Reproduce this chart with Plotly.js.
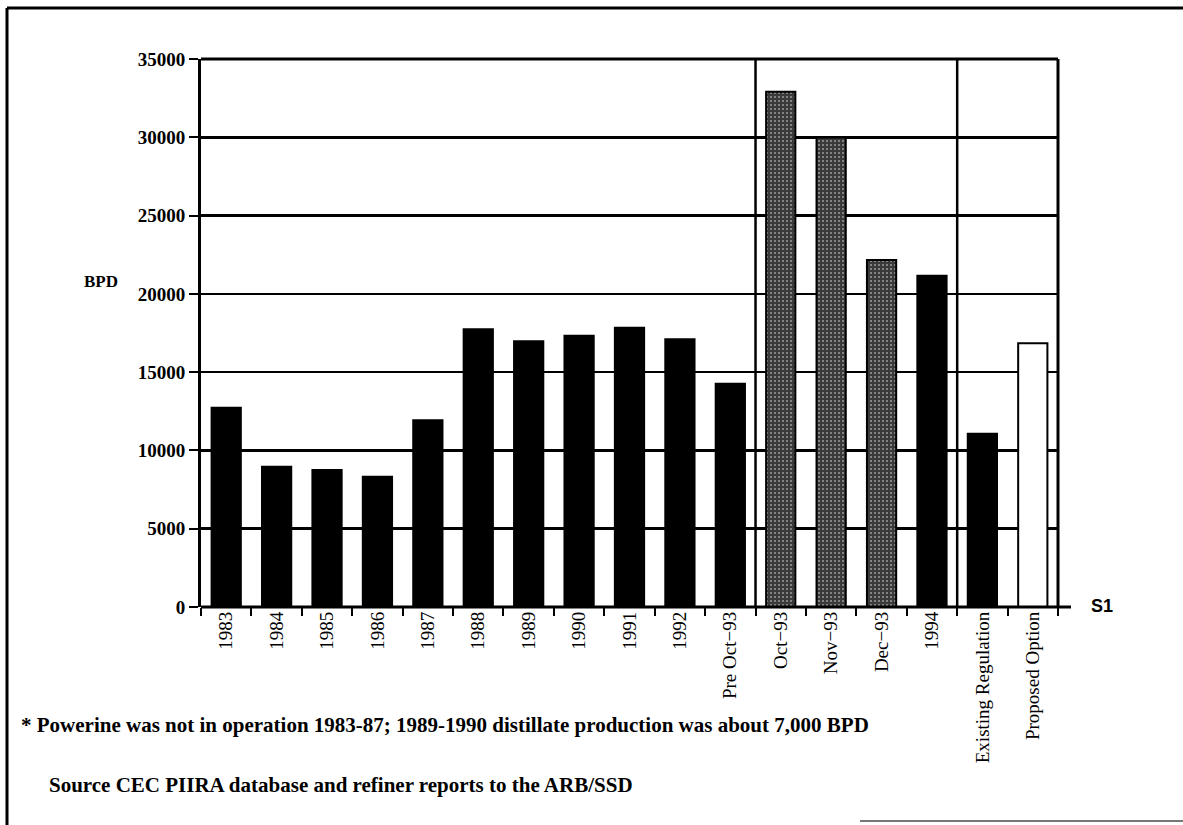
<!DOCTYPE html>
<html>
<head>
<meta charset="utf-8">
<script src="https://cdn.plot.ly/plotly-3.0.1.min.js"></script>
<style>
  html, body { margin: 0; padding: 0; background: #ffffff; }
  #chart { width: 1183px; height: 825px; }
</style>
</head>
<body>
<div id="chart"></div>
<script>
// ---- data ----
const categories = ["1983", "1984", "1985", "1986", "1987", "1988", "1989", "1990", "1991", "1992",
  "Pre Oct\u221293", "Oct\u221293", "Nov\u221293", "Dec\u221293", "1994", "Existing Regulation", "Proposed Option"];
const bpdValues = [12730, 8960, 8750, 8320, 11920, 17740, 16970, 17330, 17840, 17100,
  14260, 32910, 29980, 22160, 21150, 11070, 16840];
const barGroup = ["hist", "hist", "hist", "hist", "hist", "hist", "hist", "hist", "hist", "hist",
  "hist", "month", "month", "month", "hist", "hist", "option"];
const yTicks = [0, 5000, 10000, 15000, 20000, 25000, 30000, 35000];
const separatorsAfter = ["Pre Oct\u221293", "1994"];
const seriesName = "S1";

// ---- geometry helpers (pixel -> paper) ----
const L = 201, R = 1058, T = 59, B = 607;
const W = 1183, H = 825;
const px = x => (x - L) / (R - L);
const py = y => (B - y) / (B - T);

// ---- styles ----
const fillFor = { hist: "#000000", month: "#3a3a3a", option: "#ffffff" };
const colors = barGroup.map(g => fillFor[g]);
const patShapes = barGroup.map(g => g === "month" ? "." : "");

const trace = {
  type: "bar",
  x: categories,
  y: bpdValues,
  name: seriesName,
  marker: {
    color: colors,
    line: { color: "#000000", width: 2 },
    pattern: { shape: patShapes, fillmode: "overlay", fgcolor: "#a8a8a8", size: 4, solidity: 0.2 }
  },
  hoverinfo: "x+y"
};

const shapes = [];
// vertical separators
separatorsAfter.forEach(c => {
  const i = categories.indexOf(c);
  shapes.push({ type: "line", xref: "x", yref: "paper", x0: i + 0.5, x1: i + 0.5, y0: 0, y1: 1,
    line: { color: "#000", width: 2.5 } });
});
// right border of plot
shapes.push({ type: "line", xref: "paper", yref: "paper", x0: 1, x1: 1, y0: 0, y1: 1, line: { color: "#000", width: 3 } });
// top border
shapes.push({ type: "line", xref: "paper", yref: "paper", x0: 0, x1: 1, y0: 1, y1: 1, line: { color: "#000", width: 3 } });
// x axis extension beyond right border
shapes.push({ type: "line", xref: "paper", yref: "paper", x0: 0, x1: px(1071), y0: 0, y1: 0, line: { color: "#000", width: 3 } });
// outer frame
shapes.push({ type: "line", xref: "paper", yref: "paper", x0: px(7), x1: px(1183), y0: py(8), y1: py(8), line: { color: "#000", width: 3 } });
shapes.push({ type: "line", xref: "paper", yref: "paper", x0: px(7), x1: px(7), y0: py(8), y1: py(825), line: { color: "#000", width: 3 } });
shapes.push({ type: "line", xref: "paper", yref: "paper", x0: px(860), x1: px(1183), y0: py(821), y1: py(821), line: { color: "#777", width: 2 } });

const serif = "Liberation Serif, Times New Roman, serif";

const annotations = [
  { text: "<b>BPD</b>", xref: "paper", yref: "paper", x: px(101), y: py(281), xanchor: "center", yanchor: "middle",
    showarrow: false, font: { family: serif, size: 17, color: "#000" } },
  { text: "<b>" + seriesName + "</b>", xref: "paper", yref: "paper", x: px(1089), y: py(606), xanchor: "left", yanchor: "middle",
    showarrow: false, font: { family: "Liberation Sans, Arial, sans-serif", size: 18, color: "#000" } },
  { text: "<b>* Powerine was not in operation 1983-87; 1989-1990 distillate production was about 7,000 BPD</b>",
    xref: "paper", yref: "paper", x: px(19), y: py(725), xanchor: "left", yanchor: "middle",
    showarrow: false, font: { family: serif, size: 21, color: "#000" } },
  { text: "<b>Source CEC PIIRA database and refiner reports to the ARB/SSD</b>",
    xref: "paper", yref: "paper", x: px(47), y: py(785), xanchor: "left", yanchor: "middle",
    showarrow: false, font: { family: serif, size: 21, color: "#000" } }
];

const layout = {
  width: W, height: H,
  margin: { l: L, r: W - R, t: T, b: H - B, pad: 0 },
  paper_bgcolor: "#ffffff",
  plot_bgcolor: "#ffffff",
  showlegend: false,
  bargap: 0.42,
  xaxis: {
    type: "category",
    range: [-0.5, categories.length - 0.5],
    tickangle: -90,
    ticks: "outside", ticklen: 8, tickwidth: 2, tickcolor: "#000",
    tickson: "boundaries",
    showline: false,
    showgrid: false,
    zeroline: false,
    tickfont: { family: serif, size: 19, color: "#000" },
    fixedrange: true
  },
  yaxis: {
    range: [0, 35000],
    tickvals: yTicks,
    ticktext: yTicks.map(String),
    ticks: "outside", ticklen: 9, tickwidth: 2, tickcolor: "#000",
    showline: true, linewidth: 3, linecolor: "#000",
    showgrid: true, gridcolor: "#000", gridwidth: 2.5,
    zeroline: false,
    tickfont: { family: serif, size: 19, color: "#000", weight: "bold" },
    fixedrange: true
  },
  shapes: shapes,
  annotations: annotations
};

Plotly.newPlot("chart", [trace], layout, { displayModeBar: false, staticPlot: true });
</script>
</body>
</html>
